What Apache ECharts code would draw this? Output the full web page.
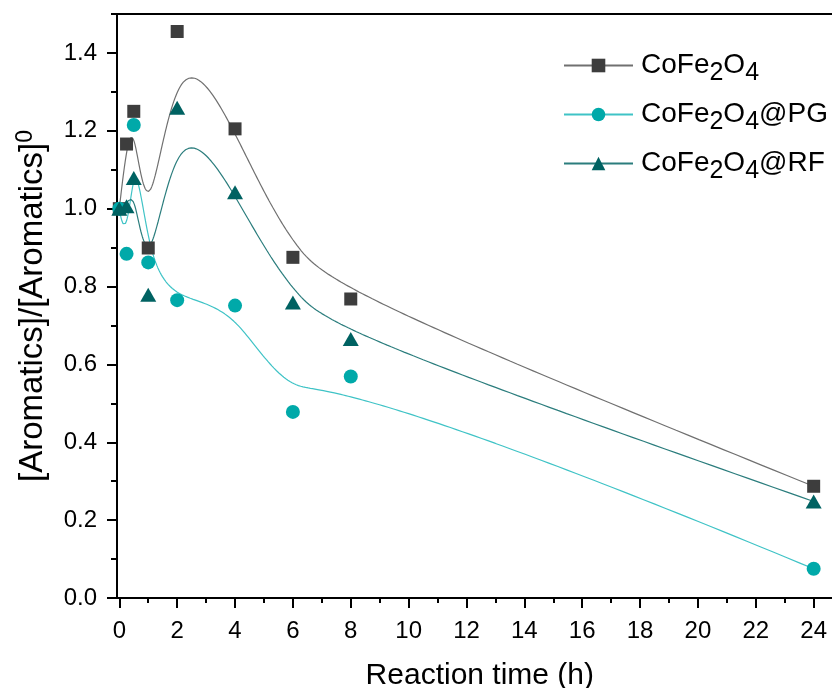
<!DOCTYPE html>
<html>
<head>
<meta charset="utf-8">
<title>Aromatics vs reaction time</title>
<script src="https://cdn.jsdelivr.net/npm/echarts@6/dist/echarts.min.js"></script>
<style>
  html, body { margin: 0; padding: 0; background: #fff; }
  #chart { width: 832px; height: 688px; }
</style>
</head>
<body>
<div id="chart"></div>
<script>
// Reaction times (h)
const time = [0, 0.25, 0.5, 1, 2, 4, 6, 8, 24];

// [Aromatics]/[Aromatics]0 per catalyst
const cofe2o4   = [1.00, 1.166, 1.250, 0.899, 1.455, 1.205, 0.875, 0.768, 0.287];
const cofe2o4PG = [1.00, 0.884, 1.215, 0.862, 0.765, 0.751, 0.478, 0.569, 0.075];
const cofe2o4RF = [1.00, 1.006, 1.079, 0.779, 1.259, 1.042, 0.759, 0.665, 0.248];

const seriesNames = ['CoFe2O4', 'CoFe2O4@PG', 'CoFe2O4@RF'];

// Axis ticks
const xMajorTicks = [0, 2, 4, 6, 8, 10, 12, 14, 16, 18, 20, 22, 24];
const xMinorTicks = [1, 3, 5, 7, 9, 11, 13, 15, 17, 19, 21, 23];
const yMajorTicks = [0, 0.2, 0.4, 0.6, 0.8, 1.0, 1.2, 1.4];
const yMinorTicks = [0.1, 0.3, 0.5, 0.7, 0.9, 1.1, 1.3, 1.5];

const FONT = 'Liberation Sans, Arial, sans-serif';

// Clamped cubic B-spline using the measured points as control points
function bspline(xs, ys, samples) {
  const p = 3;
  const n = xs.length - 1;
  const m = n + p + 1;
  const uMax = n - p + 1;
  const t = [];
  for (let i = 0; i <= m; i++) {
    if (i <= p) t.push(0);
    else if (i >= m - p) t.push(uMax);
    else t.push(i - p);
  }
  const out = [];
  for (let s = 0; s <= samples; s++) {
    const u = uMax * s / samples;
    let k = p;
    while (k < n && !(u >= t[k] && u < t[k + 1])) k++;
    const dx = [], dy = [];
    for (let j = 0; j <= p; j++) {
      dx.push(xs[j + k - p]);
      dy.push(ys[j + k - p]);
    }
    for (let r = 1; r <= p; r++) {
      for (let j = p; j >= r; j--) {
        const den = t[j + 1 + k - r] - t[j + k - p];
        const a = den === 0 ? 0 : (u - t[j + k - p]) / den;
        dx[j] = (1 - a) * dx[j - 1] + a * dx[j];
        dy[j] = (1 - a) * dy[j - 1] + a * dy[j];
      }
    }
    out.push([dx[p], dy[p]]);
  }
  return out;
}

const points = (ys) => time.map((x, i) => [x, ys[i]]);

const styles = [
  { data: cofe2o4,   symbol: 'rect',     size: 13,       marker: '#3d3d3d', line: '#707070' },
  { data: cofe2o4PG, symbol: 'circle',   size: 14,       marker: '#00a9a9', line: '#3fc3c6' },
  { data: cofe2o4RF, symbol: 'triangle', size: [16, 14], marker: '#006262', line: '#2b7d7d' }
];

const curveSeries = styles.map((st, i) => ({
  name: seriesNames[i],
  type: 'line',
  xAxisIndex: 0,
  yAxisIndex: 0,
  data: bspline(time, st.data, 600),
  showSymbol: false,
  symbol: st.symbol,
  symbolSize: st.size,
  itemStyle: { color: st.marker },
  lineStyle: { color: st.line, width: 1.2 },
  z: 2,
  silent: true
}));

const markerSeries = styles.map((st, i) => ({
  name: seriesNames[i],
  type: 'scatter',
  xAxisIndex: 0,
  yAxisIndex: 0,
  data: points(st.data),
  symbol: st.symbol,
  symbolSize: st.size,
  itemStyle: { color: st.marker, opacity: 1 },
  z: 3
}));

function chem(name) {
  const rest = name.replace('CoFe2O4', '');
  return '{n|CoFe}{s|2}{n|O}{s|4}' + (rest ? '{n|' + rest + '}' : '');
}

const blackLine = { show: true, onZero: false, lineStyle: { color: '#000', width: 2 } };

const option = {
  animation: false,
  backgroundColor: '#fff',
  grid: { left: 117, top: 14, right: -10.6, bottom: 90, containLabel: false, outerBoundsMode: 'none' },
  legend: {
    data: seriesNames,
    orient: 'vertical',
    left: 558,
    top: 40,
    itemWidth: 69,
    itemHeight: 17,
    itemGap: 8,
    selectedMode: false,
    formatter: chem,
    textStyle: {
      color: '#000',
      padding: [0, 0, 0, 3],
      rich: {
        n: { fontSize: 28, fontFamily: FONT, color: '#000', lineHeight: 30 },
        s: { fontSize: 25, fontFamily: FONT, color: '#000', lineHeight: 28, padding: [16, 0, 0, 0] }
      }
    }
  },
  xAxis: [
    {
      type: 'value', position: 'bottom', min: -0.08, max: 25,
      name: 'Reaction time (h)', nameLocation: 'middle', nameGap: 63,
      nameTextStyle: { fontSize: 30, fontFamily: FONT, color: '#000' },
      axisLine: blackLine,
      axisTick: { show: true, inside: false, length: 10, customValues: xMajorTicks,
                  lineStyle: { color: '#000', width: 2 } },
      axisLabel: { show: true, customValues: xMajorTicks, margin: 21, fontSize: 24,
                   fontFamily: FONT, color: '#000', formatter: (v) => String(v) },
      splitLine: { show: false }
    },
    {
      type: 'value', position: 'bottom', min: -0.08, max: 25,
      axisLine: { show: false, onZero: false },
      axisTick: { show: true, inside: false, length: 5, customValues: xMinorTicks,
                  lineStyle: { color: '#000', width: 2 } },
      axisLabel: { show: false },
      splitLine: { show: false }
    },
    {
      type: 'value', position: 'top', min: -0.08, max: 25,
      axisLine: blackLine,
      axisTick: { show: false },
      axisLabel: { show: false },
      splitLine: { show: false }
    }
  ],
  yAxis: [
    {
      type: 'value', position: 'left', min: 0, max: 1.5,
      name: '{n|[Aromatics]/[Aromatics]}{p|0}', nameLocation: 'middle', nameGap: 64,
      nameTextStyle: {
        color: '#000',
        rich: {
          n: { fontSize: 33, fontFamily: FONT, color: '#000', lineHeight: 36 },
          p: { fontSize: 23, fontFamily: FONT, color: '#000', lineHeight: 26, padding: [0, 0, 16, 0] }
        }
      },
      axisLine: blackLine,
      axisTick: { show: true, inside: false, length: 10, customValues: yMajorTicks,
                  lineStyle: { color: '#000', width: 2 } },
      axisLabel: { show: true, customValues: yMajorTicks, margin: 20, fontSize: 24,
                   fontFamily: FONT, color: '#000', formatter: (v) => v.toFixed(1) },
      splitLine: { show: false }
    },
    {
      type: 'value', position: 'left', min: 0, max: 1.5,
      axisLine: { show: false, onZero: false },
      axisTick: { show: true, inside: false, length: 6, customValues: yMinorTicks,
                  lineStyle: { color: '#000', width: 2 } },
      axisLabel: { show: false },
      splitLine: { show: false }
    }
  ],
  series: curveSeries.concat(markerSeries)
};

const chart = echarts.init(document.getElementById('chart'), null, { renderer: 'canvas' });
chart.setOption(option);
</script>
</body>
</html>
